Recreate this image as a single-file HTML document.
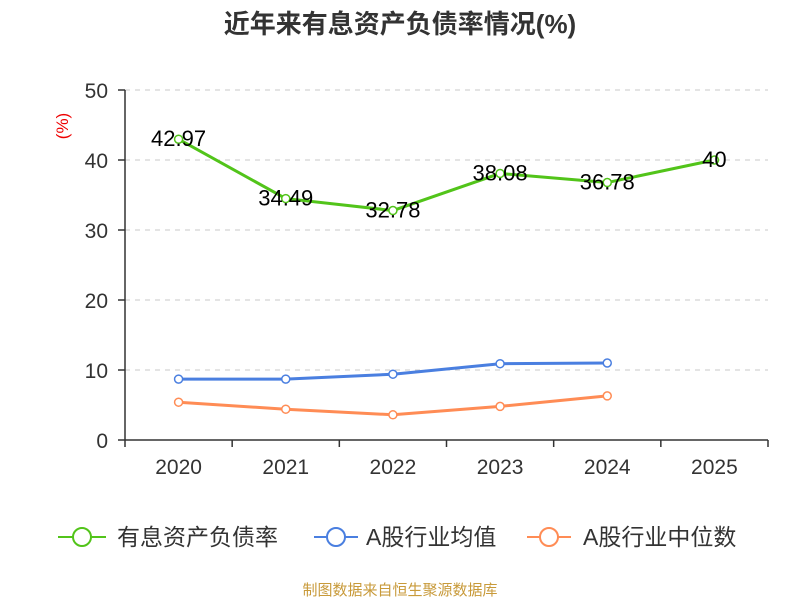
<!DOCTYPE html>
<html><head><meta charset="utf-8"><style>
body{margin:0;background:#fff;width:800px;height:600px;overflow:hidden;font-family:"Liberation Sans","Noto Sans CJK SC",sans-serif}
</style></head><body>
<svg id="chart" width="800" height="600" xmlns="http://www.w3.org/2000/svg" font-family="Liberation Sans, Noto Sans CJK SC, sans-serif">
<text x="400" y="33" text-anchor="middle" font-size="26" font-weight="bold" fill="#333">近年来有息资产负债率情况(%)</text>
<text transform="translate(68,126) rotate(-90)" text-anchor="middle" font-size="17" fill="#e00">(%)</text>
<g id="grid"></g><g id="axes"></g><g id="series"></g>
<g font-size="23" fill="#333">
<g><line x1="58" y1="537" x2="106" y2="537" stroke="#52c41a" stroke-width="2"/><circle cx="82" cy="537" r="9" fill="#fff" stroke="#52c41a" stroke-width="2"/><text x="117" y="545">有息资产负债率</text></g>
<g><line x1="314" y1="537" x2="358" y2="537" stroke="#4a7fe0" stroke-width="2"/><circle cx="336" cy="537" r="9" fill="#fff" stroke="#4a7fe0" stroke-width="2"/><text x="366" y="545">A股行业均值</text></g>
<g><line x1="527" y1="537" x2="571" y2="537" stroke="#ff8c55" stroke-width="2"/><circle cx="549" cy="537" r="9" fill="#fff" stroke="#ff8c55" stroke-width="2"/><text x="583" y="545">A股行业中位数</text></g>
</g>
<text x="400" y="595" text-anchor="middle" font-size="15" fill="#c89a3a">制图数据来自恒生聚源数据库</text>
</svg>
<script>
const categories=["2020","2021","2022","2023","2024","2025"];
const companyValues=[42.97,34.49,32.78,38.08,36.78,40];
const companyLabels=["42.97","34.49","32.78","38.08","36.78","40"];
const meanValues=[8.7,8.7,9.4,10.9,11.0];
const medianValues=[5.4,4.4,3.6,4.8,6.3];
const yTicks=[0,10,20,30,40,50];
const NS="http://www.w3.org/2000/svg";
const x0=125,x1=768,yb=440,yt=90;
const bw=(x1-x0)/categories.length;
const X=i=>x0+bw*(i+0.5);
const Y=v=>yb-(v/50)*(yb-yt);
function mk(tag,attrs,parent){const e=document.createElementNS(NS,tag);for(const k in attrs)e.setAttribute(k,attrs[k]);parent.appendChild(e);return e;}
const grid=document.getElementById('grid'),axes=document.getElementById('axes'),series=document.getElementById('series');
yTicks.forEach(t=>{
 if(t>0){const g=mk('line',{x1:x0,x2:x1,y1:Y(t),y2:Y(t),stroke:'#c8c8c8','stroke-dasharray':'5,5'},grid);
 
 }
 const tk=mk('line',{x1:x0-7,x2:x0,y1:Y(t),y2:Y(t),stroke:'#333','stroke-width':1.5},axes);
 
 
 const tx=mk('text',{x:x0-17,y:Y(t)+8,'text-anchor':'end','font-size':21,fill:'#333'},axes);tx.textContent=t;
 
 
});
const ya=mk('line',{x1:x0,x2:x0,y1:yt,y2:yb,stroke:'#333','stroke-width':1.5},axes);


const xa=mk('line',{x1:x0,x2:x1,y1:yb,y2:yb,stroke:'#333','stroke-width':1.5},axes);


for(let i=0;i<=categories.length;i++){const t=mk('line',{x1:x0+bw*i,x2:x0+bw*i,y1:yb,y2:yb+7,stroke:'#333','stroke-width':1.5},axes);
 
 }
categories.forEach((c,i)=>{const t=mk('text',{x:X(i),y:yb+34,'text-anchor':'middle','font-size':21,fill:'#333'},axes);t.textContent=c;
 
 });
function drawSeries(vals,color,name){
 const pts=vals.map((v,i)=>X(i)+','+Y(v)).join(' ');
 const pl=mk('polyline',{points:pts,fill:'none',stroke:color,'stroke-width':3},series);
 
 
 vals.forEach((v,i)=>{const c=mk('circle',{cx:X(i),cy:Y(v),r:4,fill:'#fff',stroke:color,'stroke-width':1.5},series);
  
  });
}
drawSeries(medianValues,'#ff8c55','industry-median');
drawSeries(meanValues,'#4a7fe0','industry-mean');
drawSeries(companyValues,'#52c41a','company');
companyValues.forEach((v,i)=>{const t=mk('text',{x:X(i),y:Y(v)+7,'text-anchor':'middle','font-size':22,fill:'#000'},series);t.textContent=companyLabels[i];
 
 });
</script>
</body></html>
